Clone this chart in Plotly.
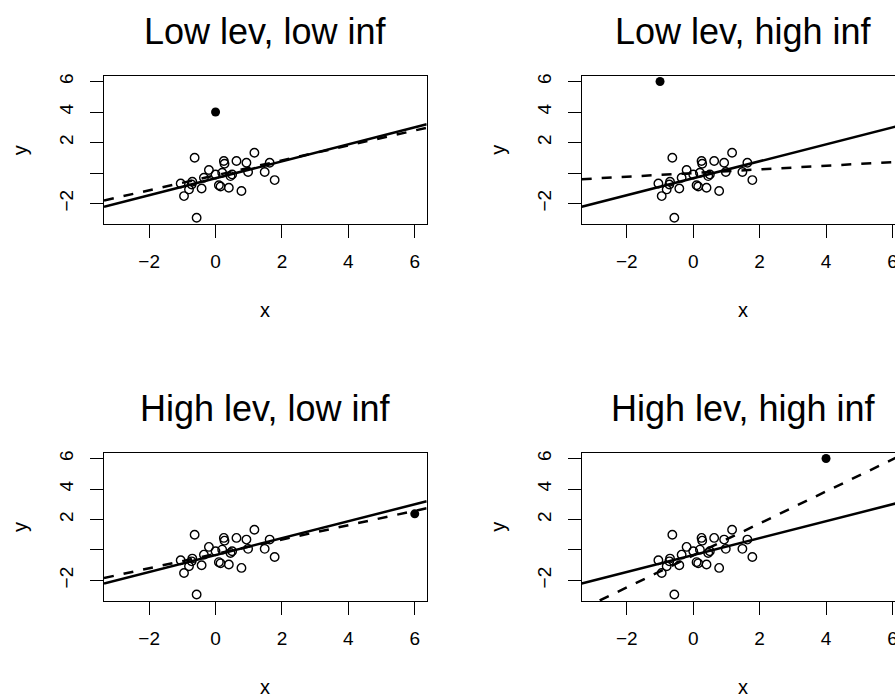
import plotly.graph_objects as go

# ---- data ----
x_base = [-0.63, 1.17, 0.25, 0.27, 0.63, 0.93, 1.63, -0.20, 0.00, 0.20, 0.50, 0.45,
          0.98, 1.48, 1.78, -0.35, -1.05, -0.70, -0.80, -0.95, -0.42, 0.10, 0.15,
          0.40, 0.78, -0.57, -0.72]
y_base = [1.00, 1.33, 0.79, 0.61, 0.79, 0.68, 0.68, 0.20, -0.09, 0.02, -0.09, -0.20,
          0.07, 0.07, -0.46, -0.31, -0.68, -0.57, -1.07, -1.51, -1.01, -0.80, -0.88,
          -0.96, -1.18, -2.93, -0.75]

panel_titles = ["Low lev, low inf", "Low lev, high inf", "High lev, low inf", "High lev, high inf"]
extra_x = [0, -1, 6, 4]
extra_y = [4, 6, 2.37, 6]

solid_intercept = -0.34
solid_slope = 0.556
dashed_intercept = [-0.15, 0.00, -0.26, -0.36]
dashed_slope = [0.49, 0.12, 0.471, 1.05]

x_tickvals = [-2, 0, 2, 4, 6]
x_ticktext = ["\u22122", "0", "2", "4", "6"]
y_tickvals = [-2, 0, 2, 4, 6]
y_ticktext = ["\u22122", "", "2", "4", "6"]

# ---- layout geometry ----
W, H = 895, 698
FONT = "Liberation Sans, Arial, Helvetica, sans-serif"
LIM = [-3.36, 6.36]

# panel boxes in pixels (left, right, top, bottom)
boxes = [
    (104.0, 426.7, 73.3, 222.3),
    (581.7, 895.0, 73.3, 222.3),
    (104.0, 426.7, 452.0, 600.7),
    (581.7, 895.0, 452.0, 600.7),
]
full_width = 426.7 - 104.0
px_per_unit = full_width / (LIM[1] - LIM[0])

fig = go.Figure()
line_x = [LIM[0], LIM[1]]

for i in range(4):
    xa = "x" if i == 0 else f"x{i+1}"
    ya = "y" if i == 0 else f"y{i+1}"
    fig.add_trace(go.Scatter(
        x=x_base, y=y_base, mode="markers", xaxis=xa, yaxis=ya,
        marker=dict(symbol="circle-open", size=8.5, color="black", line=dict(width=1.4)),
        showlegend=False, hoverinfo="skip"))
    fig.add_trace(go.Scatter(
        x=[extra_x[i]], y=[extra_y[i]], mode="markers", xaxis=xa, yaxis=ya,
        marker=dict(symbol="circle", size=9, color="black"),
        showlegend=False, hoverinfo="skip"))
    fig.add_trace(go.Scatter(
        x=line_x, y=[solid_intercept + solid_slope * v for v in line_x],
        mode="lines", xaxis=xa, yaxis=ya,
        line=dict(color="black", width=2.5),
        showlegend=False, hoverinfo="skip"))
    fig.add_trace(go.Scatter(
        x=line_x, y=[dashed_intercept[i] + dashed_slope[i] * v for v in line_x],
        mode="lines", xaxis=xa, yaxis=ya,
        line=dict(color="black", width=2.5, dash="10px,10px"),
        showlegend=False, hoverinfo="skip"))

layout = dict(
    width=W, height=H,
    margin=dict(l=0, r=0, t=0, b=0),
    paper_bgcolor="white", plot_bgcolor="white",
    font=dict(family=FONT, color="black", size=19),
    annotations=[],
)

extra_axis = 5
for i, (l, r, t, b) in enumerate(boxes):
    xk = "xaxis" if i == 0 else f"xaxis{i+1}"
    yk = "yaxis" if i == 0 else f"yaxis{i+1}"
    ya = "y" if i == 0 else f"y{i+1}"
    xa = "x" if i == 0 else f"x{i+1}"
    right_clipped = r >= W
    xr = [LIM[0], LIM[0] + (r - l) / px_per_unit]
    common = dict(showgrid=False, zeroline=False, showline=True, linecolor="black",
                  linewidth=1.3, ticks="outside", ticklen=13, tickwidth=1.3,
                  tickcolor="black", tickfont=dict(family=FONT, size=19, color="black"))
    tt = list(x_ticktext)
    if right_clipped:
        # last label is drawn below as clipped text (it is cut by the page edge)
        tt = [s if v < xr[1] - 0.3 else "" for v, s in zip(x_tickvals, x_ticktext)]
    layout[xk] = dict(domain=[l / W, r / W], range=xr, anchor=ya, mirror=True,
                      tickmode="array", tickvals=x_tickvals, ticktext=tt,
                      ticklabelstandoff=7, **common)
    layout[yk] = dict(domain=[1 - b / H, 1 - t / H], range=LIM, anchor=xa,
                      mirror=(not right_clipped),
                      tickmode="array", tickvals=y_tickvals, ticktext=y_ticktext,
                      tickangle=-90, ticklabelstandoff=9, **common)
    if right_clipped:
        cut_vals = [v for v in x_tickvals if v >= xr[1] - 0.3]
        cut_text = [s for v, s in zip(x_tickvals, x_ticktext) if v >= xr[1] - 0.3]
        ex, ey = f"x{extra_axis}", f"y{extra_axis}"
        lab_c = b + 39.5
        layout[f"xaxis{extra_axis}"] = dict(domain=[l / W, r / W], range=xr, anchor=ey,
                                            visible=False, fixedrange=True)
        layout[f"yaxis{extra_axis}"] = dict(domain=[1 - (lab_c + 15) / H, 1 - (lab_c - 15) / H],
                                            range=[0, 1], anchor=ex, visible=False,
                                            fixedrange=True)
        fig.add_trace(go.Scatter(
            x=cut_vals, y=[0.5] * len(cut_vals), mode="text", text=cut_text,
            textposition="middle center", cliponaxis=True,
            textfont=dict(family=FONT, size=19, color="black"),
            xaxis=ex, yaxis=ey, showlegend=False, hoverinfo="skip"))
        extra_axis += 1
    cx = (l + (l + full_width)) / 2
    layout["annotations"] += [
        dict(text=panel_titles[i], x=cx / W, y=1 - (t - 45) / H, xref="paper", yref="paper",
             xanchor="center", yanchor="middle", showarrow=False,
             font=dict(family=FONT, size=36, color="black")),
        dict(text="x", x=cx / W, y=1 - (b + 86) / H, xref="paper", yref="paper",
             xanchor="center", yanchor="middle", showarrow=False,
             font=dict(family=FONT, size=20, color="black")),
        dict(text="y", x=(l - 84) / W, y=1 - ((t + b) / 2) / H, xref="paper", yref="paper",
             xanchor="center", yanchor="middle", showarrow=False, textangle=-90,
             font=dict(family=FONT, size=20, color="black")),
    ]

fig.update_layout(**layout)
fig.write_html("out.html", config={"displayModeBar": False},
               post_script="document.body.style.margin='0';document.body.style.overflow='hidden';")
